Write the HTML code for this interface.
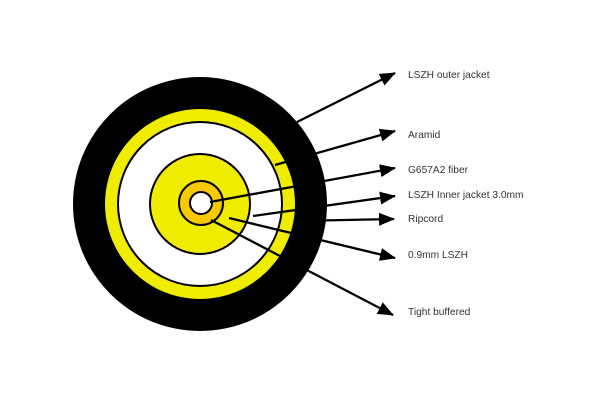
<!DOCTYPE html>
<html><head><style>html,body{margin:0;padding:0;background:#fff}svg{display:block}text{font-family:"Liberation Sans",sans-serif;font-size:10.2px;fill:#333}</style></head>
<body>
<svg width="600" height="400" viewBox="0 0 600 400">
<defs><marker id="a" markerWidth="16" markerHeight="13" refX="15" refY="6.5" orient="auto" markerUnits="userSpaceOnUse"><path d="M0,0 L16,6.5 L0,13 z" fill="#000"/></marker></defs>
<circle cx="200" cy="204" r="127" fill="#000"/>
<circle cx="200" cy="204" r="95" fill="#f0ec00"/>
<circle cx="200" cy="204" r="82" fill="#fff" stroke="#000" stroke-width="2"/>
<circle cx="200" cy="204" r="50" fill="#f0ec00" stroke="#000" stroke-width="2"/>
<circle cx="201" cy="203" r="22" fill="#f8c800" stroke="#000" stroke-width="2"/>
<circle cx="201" cy="203" r="11" fill="#fff" stroke="#000" stroke-width="2"/>
<g stroke="#000" stroke-width="2.3" marker-end="url(#a)">
<line x1="297" y1="122" x2="395" y2="73"/>
<line x1="275" y1="165" x2="395" y2="131"/>
<line x1="210" y1="202" x2="395" y2="168"/>
<line x1="253" y1="216" x2="395" y2="196"/>
<line x1="295" y1="221" x2="394" y2="219"/>
<line x1="229" y1="218" x2="395" y2="258"/>
<line x1="211" y1="220" x2="393" y2="315"/>
</g>
<text x="408" y="78">LSZH outer jacket</text>
<text x="408" y="138">Aramid</text>
<text x="408" y="173">G657A2 fiber</text>
<text x="408" y="198">LSZH Inner jacket 3.0mm</text>
<text x="408" y="222">Ripcord</text>
<text x="408" y="258">0.9mm LSZH</text>
<text x="408" y="315">Tight buffered</text>
</svg>
</body></html>
